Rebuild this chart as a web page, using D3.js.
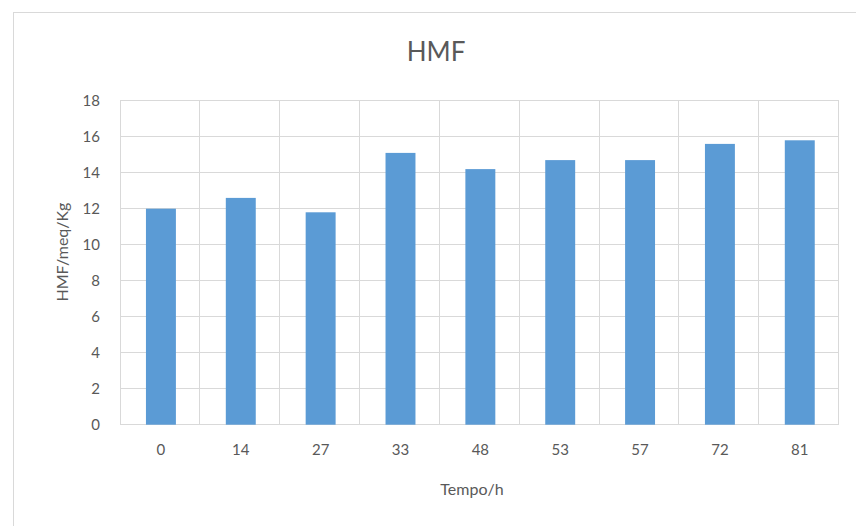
<!DOCTYPE html>
<html>
<head>
<meta charset="utf-8">
<script src="https://cdn.jsdelivr.net/npm/d3@7"></script>
<style>
  html, body { margin: 0; padding: 0; background: #fff; }
  svg { display: block; }
  text { font-family: Lato, "Open Sans", sans-serif; fill: #595959; }
</style>
</head>
<body>
<svg id="chart" width="856" height="526"></svg>
<script>
const categories = ["0", "14", "27", "33", "48", "53", "57", "72", "81"];
const values = [12.0, 12.6, 11.8, 15.1, 14.2, 14.7, 14.7, 15.6, 15.8];
const yTicks = [0, 2, 4, 6, 8, 10, 12, 14, 16, 18];
const title = "HMF";
const xTitle = "Tempo/h";
const yTitle = "HMF/meq/Kg";

const svg = d3.select("#chart");
const W = 856, H = 526;
const plot = { left: 120, top: 100.7, right: 838.7, bottom: 424.7 };

// outer chart border
svg.append("rect")
  .attr("x", 13.5).attr("y", 12.5)
  .attr("width", W).attr("height", H)
  .attr("fill", "#fff").attr("stroke", "#d9d9d9").attr("stroke-width", 1);

const x = d3.scaleBand().domain(categories).range([plot.left, plot.right]).padding(0);
const y = d3.scaleLinear().domain([0, 18]).range([plot.bottom, plot.top]);

const grid = svg.append("g").attr("stroke", "#d9d9d9").attr("stroke-width", 1).attr("shape-rendering", "crispEdges");
// horizontal gridlines
grid.selectAll("line.h").data(yTicks).join("line")
  .attr("x1", plot.left).attr("x2", plot.right)
  .attr("y1", d => y(d)).attr("y2", d => y(d));
// vertical gridlines at category boundaries
const bounds = categories.map(c => x(c)).concat([x(categories[categories.length - 1]) + x.bandwidth()]);
grid.selectAll("line.v").data(bounds).join("line")
  .attr("x1", d => d).attr("x2", d => d)
  .attr("y1", plot.top).attr("y2", plot.bottom);

// bars
const barW = x.bandwidth() * 0.375;
svg.append("g").selectAll("rect").data(values).join("rect")
  .attr("x", (d, i) => x(categories[i]) + x.bandwidth() / 2 - barW / 2 + 1)
  .attr("width", barW)
  .attr("y", d => y(d))
  .attr("height", d => y(0) - y(d))
  .attr("fill", "#5B9BD5");

// y axis labels
const yAxis = d3.axisLeft(y).tickValues(yTicks).tickSize(0).tickPadding(20);
const gy = svg.append("g").attr("transform", `translate(${plot.left},0)`).call(yAxis);
gy.select(".domain").remove();
gy.selectAll("text").style("font-size", "15px").attr("fill", "#595959").style("font-family", "Lato, sans-serif");

// x axis labels
const xAxis = d3.axisBottom(x).tickSize(0).tickPadding(20);
const gx = svg.append("g").attr("transform", `translate(1,${plot.bottom})`).call(xAxis);
gx.select(".domain").remove();
gx.selectAll("text").style("font-size", "15px").attr("fill", "#595959").style("font-family", "Lato, sans-serif");

// title
svg.append("text").attr("x", 436).attr("y", 61)
  .attr("text-anchor", "middle").style("font-size", "26px").text(title);

// axis titles
svg.append("text").attr("x", 472).attr("y", 495)
  .attr("text-anchor", "middle").style("font-size", "16px").text(xTitle);
svg.append("text")
  .attr("transform", "translate(68,252) rotate(-90)")
  .attr("text-anchor", "middle").style("font-size", "16px").text(yTitle);
</script>
</body>
</html>
